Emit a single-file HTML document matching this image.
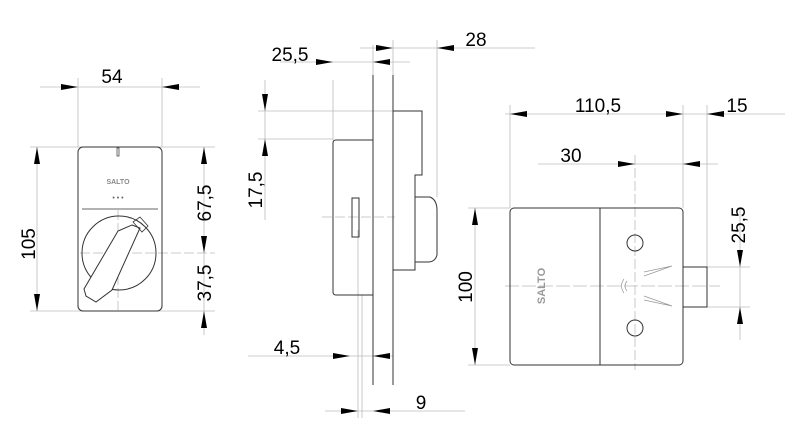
<!DOCTYPE html>
<html><head><meta charset="utf-8"><style>
html,body{margin:0;padding:0;background:#fff}
svg{display:block}
text{font-family:"Liberation Sans",sans-serif;fill:#000}
</style></head><body>
<svg width="800" height="446" viewBox="0 0 800 446" xmlns="http://www.w3.org/2000/svg">
<g stroke="#bbb" stroke-width="0.8" fill="none">
<line x1="78" y1="78" x2="78" y2="147"/><line x1="162" y1="78" x2="162" y2="147"/>
<line x1="40" y1="87" x2="200" y2="87"/>
<line x1="30" y1="147" x2="215" y2="147"/><line x1="30" y1="311" x2="215" y2="311"/>
<line x1="37" y1="147" x2="37" y2="311"/>
<line x1="204" y1="147" x2="204" y2="335"/>
<line x1="80" y1="253" x2="215" y2="253" stroke-dasharray="10,3"/>
<line x1="118" y1="210" x2="118" y2="310" stroke-dasharray="10,3"/>
<line x1="333" y1="80" x2="333" y2="140"/><line x1="373" y1="45" x2="373" y2="75"/><line x1="393" y1="40" x2="393" y2="75"/>
<line x1="437" y1="40" x2="437" y2="197"/>
<line x1="280" y1="62" x2="410" y2="62"/><line x1="360" y1="48" x2="535" y2="48"/>
<line x1="258" y1="111" x2="393" y2="111"/><line x1="258" y1="139" x2="333" y2="139"/>
<line x1="265" y1="80" x2="265" y2="220"/>
<line x1="248" y1="356" x2="393" y2="356"/><line x1="325" y1="411" x2="465" y2="411"/>
<line x1="358" y1="230" x2="358" y2="418"/><line x1="362" y1="295" x2="362" y2="418"/>
<line x1="322" y1="217" x2="395" y2="217" stroke-dasharray="10,3"/>
<line x1="510" y1="105" x2="510" y2="208"/><line x1="683" y1="105" x2="683" y2="208"/><line x1="707" y1="105" x2="707" y2="267"/>
<line x1="505" y1="114" x2="785" y2="114"/><line x1="538" y1="164" x2="718" y2="164"/>
<line x1="468" y1="208" x2="510" y2="208"/><line x1="468" y1="365" x2="510" y2="365"/>
<line x1="475" y1="208" x2="475" y2="365"/>
<line x1="707" y1="267" x2="750" y2="267"/><line x1="707" y1="307" x2="750" y2="307"/>
<line x1="740" y1="210" x2="740" y2="340"/>
<line x1="635" y1="155" x2="635" y2="370" stroke-dasharray="10,3"/>
<line x1="505" y1="286" x2="720" y2="286" stroke-dasharray="14,3"/>
</g>
<g fill="#000">
<polygon points="78,87 61,84 61,90"/><polygon points="162,87 179,84 179,90"/>
<polygon points="37,147 34,164 40,164"/><polygon points="37,311 34,294 40,294"/>
<polygon points="204,147 201,164 207,164"/><polygon points="204,253 201,236 207,236"/>
<polygon points="204,311 201,328 207,328"/>
<polygon points="333,62 316,59 316,65"/><polygon points="373,62 390,59 390,65"/>
<polygon points="393,48 376,45 376,51"/><polygon points="437,48 454,45 454,51"/>
<polygon points="265,111 262,94 268,94"/><polygon points="265,139 262,156 268,156"/>
<polygon points="350,356 333,353 333,359"/><polygon points="373,356 390,353 390,359"/>
<polygon points="358,411 341,408 341,414"/><polygon points="373,411 390,408 390,414"/>
<polygon points="510,114 527,111 527,117"/><polygon points="683,114 666,111 666,117"/>
<polygon points="707,114 724,111 724,117"/>
<polygon points="635,164 618,161 618,167"/><polygon points="683,164 700,161 700,167"/>
<polygon points="475,208 472,225 478,225"/><polygon points="475,365 472,348 478,348"/>
<polygon points="740,267 737,250 743,250"/><polygon points="740,307 737,324 743,324"/>
</g>
<g stroke="#333" stroke-width="1" fill="none">
<rect x="78" y="147" width="84" height="164" rx="5"/>
<line x1="82" y1="209" x2="158" y2="209" stroke="#999" stroke-width="1.5"/>
<rect x="117" y="148" width="2" height="8" stroke-width="0.7"/>
<circle cx="119" cy="253" r="37"/>
<path d="M132,225 L140,228 L112,290 L96,302 L86,296 L84,289 L118,231 Z" fill="#fff"/>
<path d="M133,222 L140,217 L148,226 L142,232 Z" stroke-width="0.8"/>
<line x1="373" y1="75" x2="373" y2="385"/><line x1="393" y1="75" x2="393" y2="385"/>
<path d="M373,140 L336,140 Q333,140 333,143 L333,292 Q333,295 336,295 L373,295"/>
<path d="M393,111 L422,111 L422,175 L415,175 L415,270 L393,270"/>
<path d="M415,197 L430,197 Q437,200 437,210 L437,255 Q435,262 428,262 L415,262"/>
<rect x="352" y="198" width="7" height="39"/>
<rect x="510" y="208" width="173" height="157" rx="4"/>
<line x1="600" y1="208" x2="600" y2="365"/>
<rect x="683" y="267" width="24" height="40"/>
<circle cx="635" cy="243" r="8"/><circle cx="635" cy="328" r="8"/>
</g>
<g stroke="#999" stroke-width="0.7" fill="none">
<path d="M644,272 L672,266 L644,276"/><path d="M644,300 L672,306 L644,296"/>
<path d="M627,281 Q623,286 627,291"/><path d="M624,279 Q619,286 624,293"/>
</g>
<g font-size="7">
<text x="118" y="184" text-anchor="middle" font-weight="bold" style="fill:#888">SALTO</text>
<text x="118" y="200" text-anchor="middle" style="fill:#666">• • •</text>
</g>
<text transform="translate(545,286) rotate(-90)" text-anchor="middle" font-size="11" font-weight="bold" style="fill:#999">SALTO</text>
<g font-size="19">
<text x="112" y="83" text-anchor="middle">54</text>
<text transform="translate(35,244) rotate(-90)" text-anchor="middle">105</text>
<text transform="translate(211,203) rotate(-90)" text-anchor="middle">67,5</text>
<text transform="translate(211,283) rotate(-90)" text-anchor="middle">37,5</text>
<text x="290" y="61" text-anchor="middle">25,5</text>
<text x="476" y="46" text-anchor="middle">28</text>
<text transform="translate(262,190) rotate(-90)" text-anchor="middle">17,5</text>
<text x="287" y="354" text-anchor="middle">4,5</text>
<text x="421" y="409" text-anchor="middle">9</text>
<text x="598" y="112" text-anchor="middle">110,5</text>
<text x="737" y="112" text-anchor="middle">15</text>
<text x="571" y="162" text-anchor="middle">30</text>
<text transform="translate(472,287) rotate(-90)" text-anchor="middle">100</text>
<text transform="translate(745,225) rotate(-90)" text-anchor="middle">25,5</text>
</g>
</svg>
</body></html>
